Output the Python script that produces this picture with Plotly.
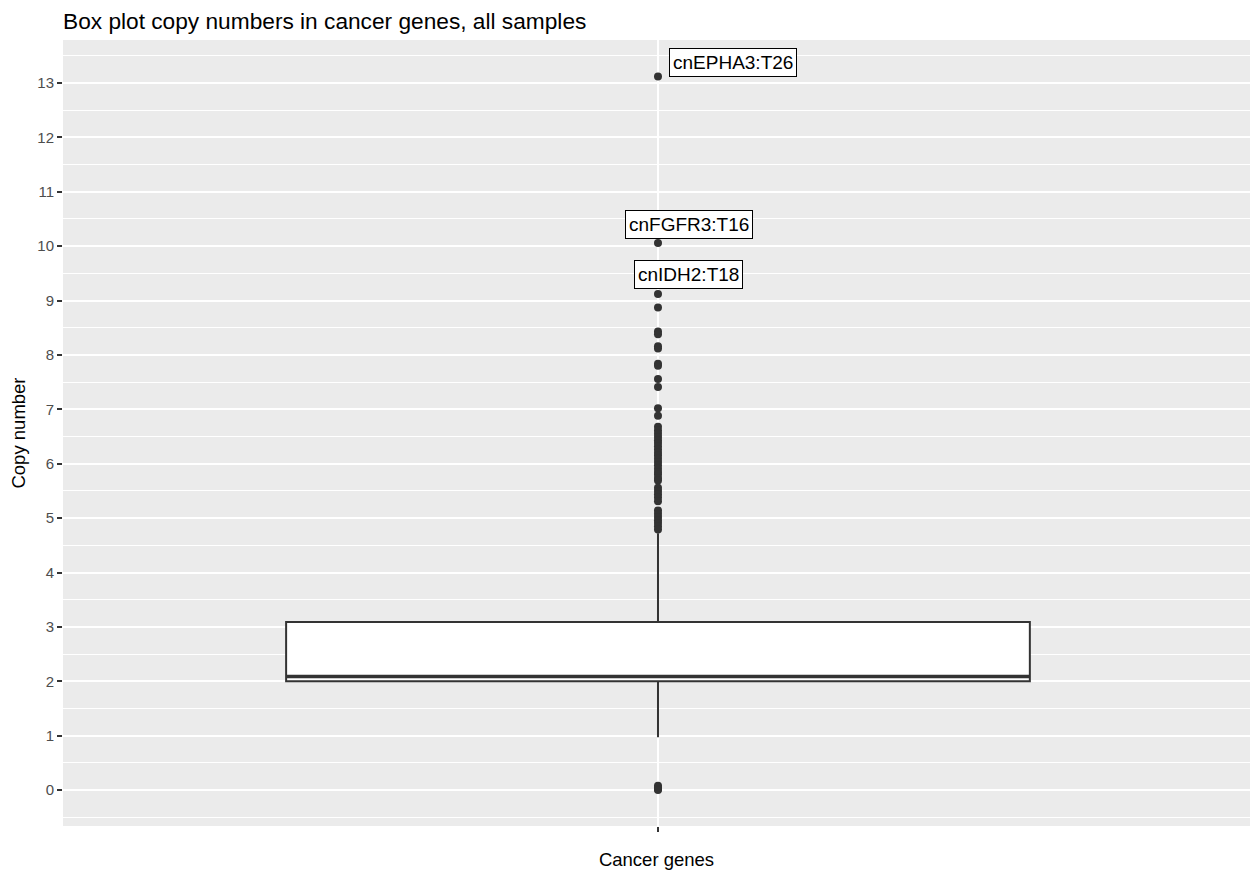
import plotly.graph_objects as go

# Box statistics for copy numbers across cancer genes (all samples)
q1 = 2.0
median = 2.09
q3 = 3.09
lower_fence = 0.97
upper_fence = 4.72

# Outlying copy-number values
outliers_high = [
    13.12, 10.06, 9.12, 8.87, 8.43, 8.38, 8.16, 8.12, 7.84, 7.80, 7.56, 7.41,
    7.02, 6.88,
    6.68, 6.61, 6.55, 6.49, 6.43, 6.38, 6.32, 6.26, 6.20, 6.15, 6.09, 6.03,
    5.97, 5.91, 5.85, 5.80, 5.74, 5.69,
    5.56, 5.50, 5.44, 5.38, 5.31,
    5.14, 5.08, 5.02, 4.96, 4.91, 4.85, 4.79,
]
outliers_low = [0.08, 0.05, 0.02, 0.0]

# Labelled outliers
label_text = ["cnEPHA3:T26", "cnFGFR3:T16", "cnIDH2:T18"]
label_value = [13.12, 10.06, 9.12]
label_dx = [75, 31, 31]
label_dy = [14, 18, 20]

category = "Cancer genes"
box_x = 1
box_width = 0.75

FONT = "Liberation Sans, Arial, Helvetica, sans-serif"
DARK = "#333333"

fig = go.Figure()

fig.add_trace(go.Box(
    x=[box_x], q1=[q1], median=[median], q3=[q3],
    lowerfence=[lower_fence], upperfence=[upper_fence],
    width=box_width, whiskerwidth=0,
    fillcolor="white", line=dict(color=DARK, width=2),
    boxpoints=False, hoverinfo="skip", showlegend=False,
))

# thicker median bar
fig.add_trace(go.Scatter(
    x=[box_x - box_width / 2, box_x + box_width / 2], y=[median, median],
    mode="lines", line=dict(color=DARK, width=3.5),
    hoverinfo="skip", showlegend=False,
))

all_out = outliers_high + outliers_low
fig.add_trace(go.Scatter(
    x=[box_x] * len(all_out), y=all_out, mode="markers",
    marker=dict(color=DARK, size=8, line=dict(width=0)),
    showlegend=False,
))

for txt, val, dx, dy in zip(label_text, label_value, label_dx, label_dy):
    fig.add_annotation(
        x=box_x, y=val, text=txt, showarrow=False,
        xshift=dx, yshift=dy,
        font=dict(family=FONT, size=19, color="black"),
        bgcolor="white", bordercolor="black", borderwidth=1, borderpad=3,
    )

fig.update_layout(
    width=1250, height=873,
    margin=dict(l=63, r=0, t=40, b=47),
    paper_bgcolor="white", plot_bgcolor="#EBEBEB",
    font=dict(family=FONT, color=DARK),
    title=dict(
        text="Box plot copy numbers in cancer genes, all samples",
        x=63 / 1250, xanchor="left", y=1 - 21 / 873, yanchor="middle",
        font=dict(family=FONT, size=22.7, color="black"),
    ),
)

fig.update_xaxes(
    range=[0.4, 1.597], tickvals=[box_x], ticktext=[""],
    ticks="outside", ticklen=5, tickwidth=1.5, tickcolor=DARK,
    showgrid=True, gridcolor="white", gridwidth=2,
    zeroline=False, showline=False,
    title=dict(text=category, font=dict(family=FONT, size=18.5, color="black"),
               standoff=19),
)

fig.update_yaxes(
    range=[-0.66, 13.79], tick0=0, dtick=1,
    ticks="outside", ticklen=5, tickwidth=1.5, tickcolor=DARK,
    tickfont=dict(family=FONT, size=15, color="#4D4D4D"),
    showgrid=True, gridcolor="white", gridwidth=2,
    minor=dict(dtick=0.5, showgrid=True, gridcolor="white", gridwidth=1),
    zeroline=False, showline=False,
    title=dict(text="Copy number", font=dict(family=FONT, size=18.5, color="black"),
               standoff=6),
)

fig.write_html("out.html")
